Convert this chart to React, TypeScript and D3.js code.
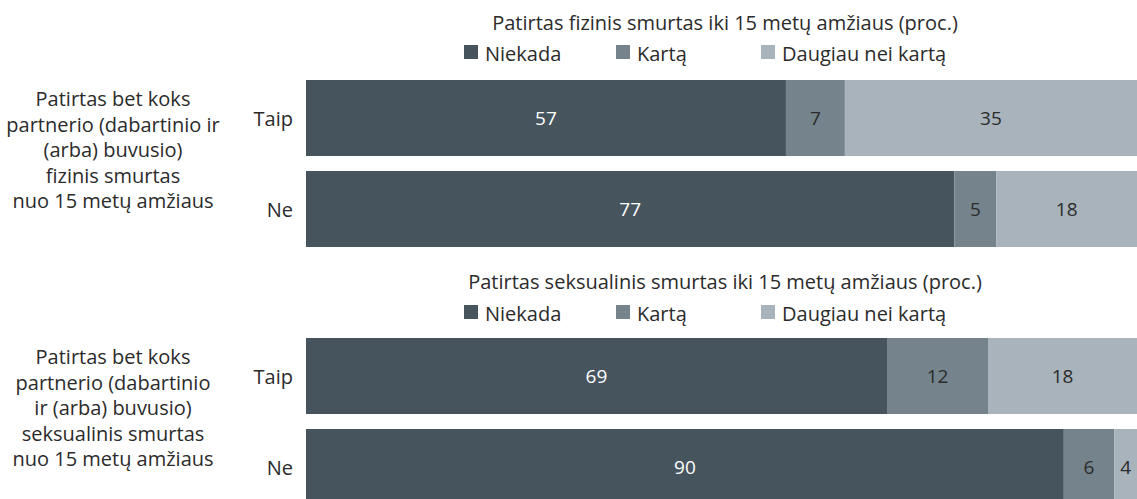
import React from "react";
import * as d3 from "d3";

const seriesKeys = ["Niekada", "Kartą", "Daugiau nei kartą"];
const rowLabels = ["Taip", "Ne"];
const panelTitles = [
  "Patirtas fizinis smurtas iki 15 metų amžiaus (proc.)",
  "Patirtas seksualinis smurtas iki 15 metų amžiaus (proc.)",
];
const sideLabels = [
  ["Patirtas bet koks", "partnerio (dabartinio ir", "(arba) buvusio)", "fizinis smurtas", "nuo 15 metų amžiaus"],
  ["Patirtas bet koks", "partnerio (dabartinio", "ir (arba) buvusio)", "seksualinis smurtas", "nuo 15 metų amžiaus"],
];
const physicalNiekada = [57, 77];
const physicalKarta = [7, 5];
const physicalDaugiau = [35, 18];
const sexualNiekada = [69, 90];
const sexualKarta = [12, 6];
const sexualDaugiau = [18, 4];

const colors = ["#46545e", "#74838c", "#a8b3bb"];
const textColors = ["#ffffff", "#2b2b2b", "#2b2b2b"];
const FONT = "'Open Sans', 'Noto Sans', sans-serif";
const W = 1137;

type Row = { label: string; [k: string]: number | string };

function buildRows(a: number[], b: number[], c: number[]): Row[] {
  return rowLabels.map((label, i) => ({
    label,
    [seriesKeys[0]]: a[i],
    [seriesKeys[1]]: b[i],
    [seriesKeys[2]]: c[i],
  }));
}

const panels = [
  { rows: buildRows(physicalNiekada, physicalKarta, physicalDaugiau), top: 80, titleY: 22, legendY: 52 },
  { rows: buildRows(sexualNiekada, sexualKarta, sexualDaugiau), top: 338, titleY: 281, legendY: 312 },
];

const x = d3.scaleLinear().domain([0, 100]).range([306, 1148]);
const legendOffsets = [464, 616, 761];

function Panel({ idx }: { idx: number }) {
  const p = panels[idx];
  const y = d3
    .scaleBand<string>()
    .domain(rowLabels)
    .range([p.top, p.top + 76 * 2 + 15])
    .paddingInner(15 / 91);
  const stack = d3.stack<Row>().keys(seriesKeys).value((d, k) => d[k] as number);
  const series = stack(p.rows);
  const centerY = (p.top + p.top + 76 * 2 + 15) / 2 - 14;
  const lines = sideLabels[idx];
  const lh = 25.5;
  return (
    <g>
      <text x={725} y={p.titleY} textAnchor="middle" dominantBaseline="central" fontSize={20} fill="#2b2b2b">
        {panelTitles[idx]}
      </text>
      {seriesKeys.map((k, i) => (
        <g key={k}>
          <rect x={legendOffsets[i]} y={p.legendY - 7} width={14} height={14} fill={colors[i]} />
          <text x={legendOffsets[i] + 21} y={p.legendY + 1} dominantBaseline="central" fontSize={20} fill="#2b2b2b">
            {k}
          </text>
        </g>
      ))}
      {lines.map((l, i) => (
        <text
          key={i}
          x={113}
          y={centerY + (i - (lines.length - 1) / 2) * lh}
          textAnchor="middle"
          dominantBaseline="central"
          fontSize={20}
          fill="#2b2b2b"
        >
          {l}
        </text>
      ))}
      {rowLabels.map((r) => (
        <text key={r} x={293} y={(y(r) as number) + y.bandwidth() / 2} textAnchor="end" dominantBaseline="central" fontSize={20} fill="#2b2b2b">
          {r}
        </text>
      ))}
      {series.map((s, si) => (
        <g key={s.key}>
          {s.map((d, di) => {
            const x0 = x(d[0]);
            const x1 = x(d[1]);
            const yy = y(rowLabels[di]) as number;
            const val = d[1] - d[0];
            return (
              <g key={di}>
                <rect x={x0} y={yy} width={x1 - x0} height={y.bandwidth()} fill={colors[si]} />
                <text
                  x={(x0 + Math.min(x1, W)) / 2}
                  y={yy + y.bandwidth() / 2}
                  textAnchor="middle"
                  dominantBaseline="central"
                  fontSize={19}
                  fill={textColors[si]}
                >
                  {val}
                </text>
              </g>
            );
          })}
        </g>
      ))}
    </g>
  );
}

export default function App() {
  return (
    <div style={{ position: "absolute", left: 0, top: 0 }}>
      <svg width={W} height={499} style={{ display: "block", fontFamily: FONT }}>
        <rect x={0} y={0} width={W} height={499} fill="#ffffff" />
        <Panel idx={0} />
        <Panel idx={1} />
      </svg>
    </div>
  );
}
